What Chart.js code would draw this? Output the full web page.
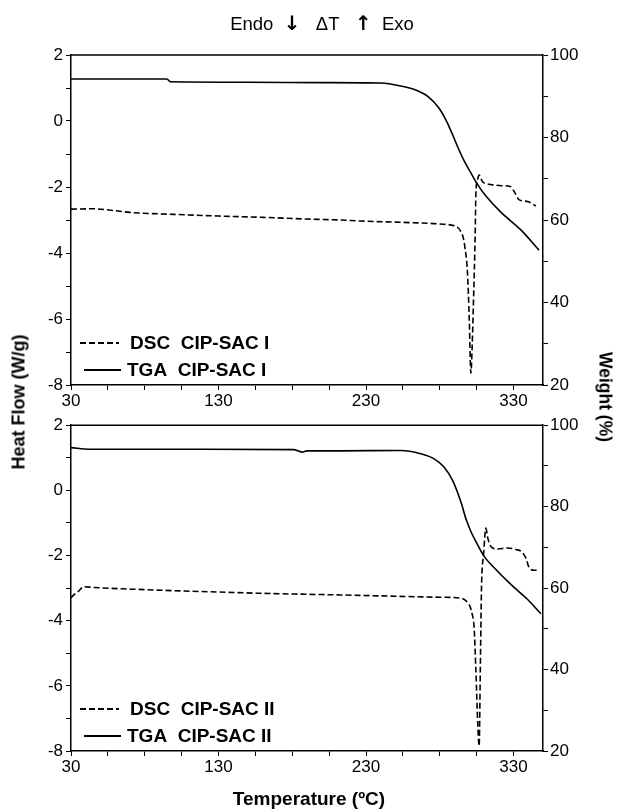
<!DOCTYPE html>
<html>
<head>
<meta charset="utf-8">
<script src="https://cdn.jsdelivr.net/npm/chart.js@4/dist/chart.umd.min.js"></script>
<style>
  html, body { margin:0; padding:0; background:#fff; }
  #wrap { position:relative; width:619px; height:812px; background:#fff; font-family:"Liberation Sans", Arial, sans-serif; color:#000; }
  .cv { position:absolute; left:0; }
  .t { position:absolute; white-space:nowrap; color:#000; }
  #head { left:0; width:644px; top:11px; text-align:center; font-size:18.5px; }
  #head b { font-family:"DejaVu Sans", sans-serif; font-size:20px; }
  #ylab { font-weight:bold; font-size:18px; left:19px; top:402px; transform:translate(-50%,-50%) rotate(-90deg); }
  #y2lab { font-weight:bold; font-size:17.5px; left:605px; top:397px; transform:translate(-50%,-50%) rotate(90deg); }
  #xlab { font-weight:bold; font-size:19px; left:309px; top:799px; transform:translate(-50%,-50%); }
</style>
</head>
<body>
<div id="wrap">
  <canvas id="c1" class="cv" width="619" height="412" style="top:0;width:619px;height:412px"></canvas>
  <canvas id="c2" class="cv" width="619" height="400" style="top:412px;width:619px;height:400px"></canvas>
  <div id="head" class="t">Endo&nbsp;&nbsp;<b>&#8595;</b>&nbsp;&nbsp;&nbsp;&#916;T&nbsp;&nbsp;&nbsp;<b>&#8593;</b>&nbsp;&nbsp;Exo</div>
  <div id="ylab" class="t">Heat Flow (W/g)</div>
  <div id="y2lab" class="t">Weight (%)</div>
  <div id="xlab" class="t">Temperature (ºC)</div>
</div>
<script>
// ---- Data ----
const seriesLabels1 = ["DSC  CIP-SAC I", "TGA  CIP-SAC I"];
const seriesLabels2 = ["DSC  CIP-SAC II", "TGA  CIP-SAC II"];

// Panel I DSC (Heat Flow, W/g)
const dscTempI = [30, 45, 60, 70, 100, 130, 160, 190, 213, 226, 260, 280, 289.5, 292, 294.3, 296, 297, 298.8, 300, 301.1, 302, 302.9, 304, 304.5, 305.5, 306.7, 309, 312, 316.9, 322, 328.2, 330.5, 333.9, 339.6, 345.2];
const dscFlowI = [-2.67, -2.66, -2.72, -2.77, -2.83, -2.88, -2.92, -2.97, -3.0, -3.03, -3.08, -3.12, -3.17, -3.22, -3.35, -3.55, -3.81, -4.6, -6.0, -7.64, -6.8, -5.4, -3.5, -2.18, -1.8, -1.64, -1.84, -1.9, -1.94, -1.96, -1.99, -2.14, -2.39, -2.44, -2.58];
// Panel I TGA (Weight, %)
const tgaTempI = [30, 60, 95, 97.3, 150, 200, 240, 253.5, 263.7, 272.5, 279.3, 284.8, 288.8, 292.2, 296.3, 301.1, 305.8, 311.3, 321.4, 335.0, 347.3];
const tgaWeightI = [94.2, 94.2, 94.2, 93.5, 93.4, 93.3, 93.2, 92.5, 91.5, 89.8, 87.2, 83.8, 80.6, 77.7, 74.5, 71.4, 68.5, 65.8, 61.9, 57.6, 52.7];

// Panel II DSC
const dscTempII = [30, 31.2, 35, 38.4, 45, 70, 100, 130, 158.4, 190, 212.7, 250, 280, 294.3, 298, 299.9, 302, 303.3, 304.5, 305.8, 306.7, 307.5, 308.3, 309.7, 311.3, 312.5, 314.7, 319.2, 326, 332, 335, 338.4, 340.7, 344.1, 347.5];
const dscFlowII = [-3.3, -3.24, -3.1, -2.96, -2.98, -3.03, -3.08, -3.12, -3.16, -3.19, -3.21, -3.25, -3.28, -3.31, -3.4, -3.5, -3.8, -4.21, -5.53, -7.2, -7.85, -5.5, -3.0, -1.96, -1.16, -1.45, -1.72, -1.80, -1.77, -1.82, -1.87, -2.08, -2.38, -2.45, -2.45];
// Panel II TGA
const tgaTempII = [30, 42.9, 120, 180.8, 186.7, 190, 212.7, 253.5, 267.1, 275.9, 282.7, 288.6, 294.3, 297.7, 301.1, 305.6, 310.1, 316.9, 328.2, 339.6, 348.6];
const tgaWeightII = [94.5, 94.1, 94.1, 94.0, 93.4, 93.7, 93.7, 93.8, 93.0, 91.8, 89.8, 86.5, 81.2, 77.1, 73.9, 70.7, 67.8, 65.0, 60.9, 57.2, 53.7];

// Axis ticks
const xTicks = [30, 55, 80, 105, 130, 155, 180, 205, 230, 255, 280, 305, 330];
const xTickLabels = [30, 130, 230, 330];
const flowTickLabels = [-8, -6, -4, -2, 0, 2];
const weightTickLabels = [20, 40, 60, 80, 100];

// ---- helpers ----
const zip = (xs, ys) => xs.map((x, i) => ({ x: x, y: ys[i] }));
const FONT = "'Liberation Sans', Arial, sans-serif";

const boxPlugin = {
  id: 'box',
  afterDraw(chart) {
    const a = chart.chartArea, ctx = chart.ctx;
    ctx.save();
    ctx.strokeStyle = '#000';
    ctx.lineWidth = 1.5;
    ctx.beginPath();
    ctx.moveTo(a.left, a.top);
    ctx.lineTo(a.right, a.top);
    ctx.stroke();
    ctx.restore();
  }
};

const legendPlugin = {
  id: 'inLegend',
  afterDatasetsDraw(chart) {
    const a = chart.chartArea, ctx = chart.ctx;
    ctx.save();
    chart.data.datasets.forEach((ds, i) => {
      const y = a.bottom - 42 + i * 27;
      ctx.strokeStyle = '#000';
      ctx.lineWidth = 2;
      ctx.setLineDash(ds.borderDash || []);
      ctx.beginPath();
      ctx.moveTo(a.left + (i ? 13 : 9), y);
      ctx.lineTo(a.left + (i ? 50 : 48), y);
      ctx.stroke();
      ctx.setLineDash([]);
      ctx.fillStyle = '#000';
      ctx.font = "bold 19px " + FONT;
      ctx.textBaseline = 'middle';
      ctx.textAlign = 'left';
      ctx.fillText(ds.label, a.left + (i ? 56 : 59), y + 1);
    });
    ctx.restore();
  }
};

function makeChart(id, labels, dT, dF, tT, tW, padTop, xHeight) {
  const tickFont = { family: FONT, size: 17 };
  const gridCommon = { drawOnChartArea: false, color: '#000', tickLength: 5, lineWidth: 1 };
  const borderCommon = { display: true, color: '#000', width: 1.5 };
  return new Chart(document.getElementById(id), {
    type: 'line',
    data: {
      datasets: [
        { label: labels[0], data: zip(dT, dF), yAxisID: 'y', borderColor: '#000', borderWidth: 1.6,
          borderDash: [6, 3], pointRadius: 0, fill: false, cubicInterpolationMode: 'monotone' },
        { label: labels[1], data: zip(tT, tW), yAxisID: 'y2', borderColor: '#000', borderWidth: 1.6,
          pointRadius: 0, fill: false, cubicInterpolationMode: 'monotone' }
      ]
    },
    options: {
      responsive: false,
      animation: false,
      devicePixelRatio: 1,
      layout: { padding: { top: padTop, left: 0, right: 0, bottom: 0 } },
      plugins: { legend: { display: false }, tooltip: { enabled: false }, title: { display: false } },
      scales: {
        x: {
          type: 'linear', min: 30, max: 350, position: 'bottom',
          afterBuildTicks(scale) { scale.ticks = xTicks.map(v => ({ value: v })); },
          afterFit(scale) { scale.height = xHeight; },
          ticks: { autoSkip: false, maxRotation: 0, color: '#000', font: tickFont, padding: 1,
                   callback: (v) => xTickLabels.includes(v) ? String(v) : '' },
          grid: gridCommon, border: borderCommon
        },
        y: {
          type: 'linear', position: 'left', min: -8, max: 2,
          afterFit(scale) { scale.width = 71; },
          ticks: { stepSize: 1, autoSkip: false, color: '#000', font: tickFont, padding: 3,
                   callback: (v) => flowTickLabels.includes(v) ? String(v) : '' },
          grid: gridCommon, border: borderCommon
        },
        y2: {
          type: 'linear', position: 'right', min: 20, max: 100,
          afterFit(scale) { scale.width = 76; },
          ticks: { stepSize: 10, autoSkip: false, color: '#000', font: tickFont, padding: 2,
                   callback: (v) => weightTickLabels.includes(v) ? String(v) : '' },
          grid: gridCommon, border: borderCommon
        }
      }
    },
    plugins: [boxPlugin, legendPlugin]
  });
}

makeChart('c1', seriesLabels1, dscTempI, dscFlowI, tgaTempI, tgaWeightI, 55, 27);
makeChart('c2', seriesLabels2, dscTempII, dscFlowII, tgaTempII, tgaWeightII, 11, 61);
</script>
</body>
</html>
